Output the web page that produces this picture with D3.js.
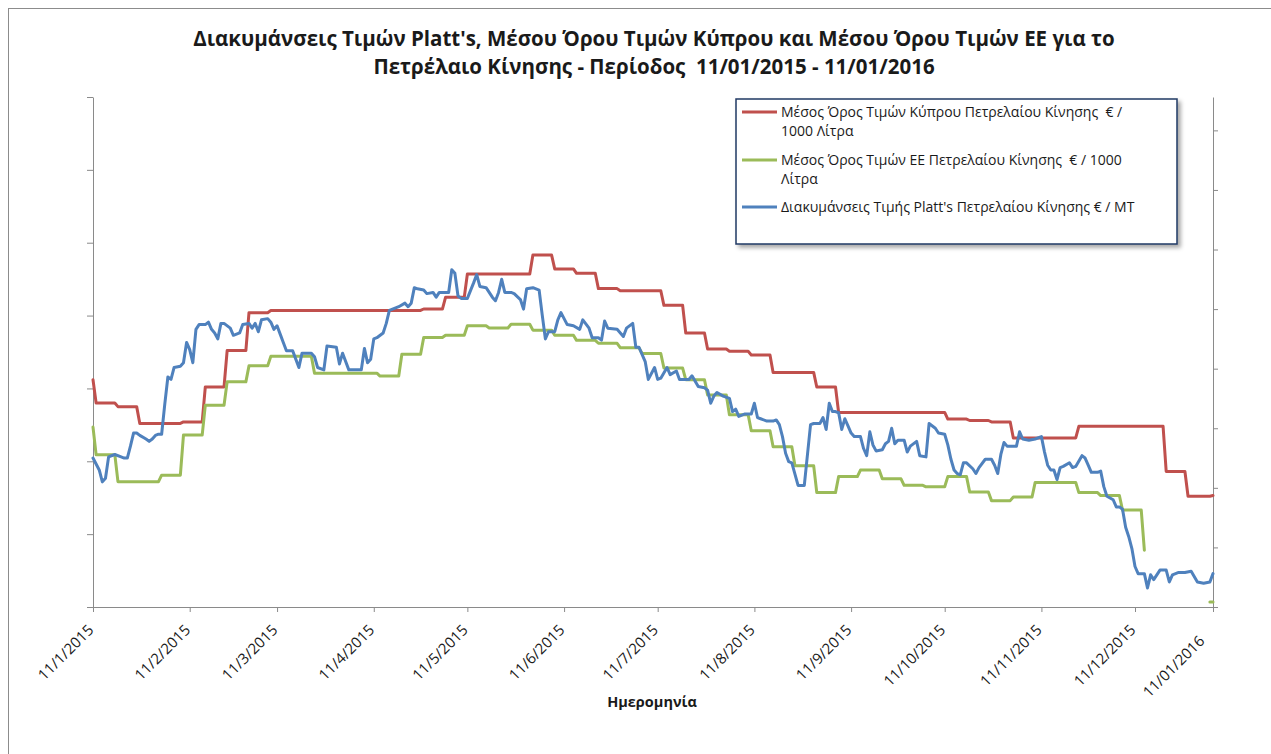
<!DOCTYPE html>
<html>
<head>
<meta charset="utf-8">
<script src="https://cdn.jsdelivr.net/npm/d3@7"></script>
<style>
  body { margin: 0; background: #fff; }
  text { font-family: "Open Sans", "Noto Sans", sans-serif; fill: #1a1a1a; }
</style>
</head>
<body>
<svg id="chart" width="1271" height="754"></svg>
<script>

// titles and labels
var titleLines = [
  "Διακυμάνσεις Τιμών Platt's, Μέσου Όρου Τιμών Κύπρου και Μέσου Όρου Τιμών ΕΕ για το",
  "Πετρέλαιο Κίνησης - Περίοδος  11/01/2015 - 11/01/2016"
];
var xTitle = "Ημερομηνία";
var legendLines = [
  ["Μέσος Όρος Τιμών Κύπρου Πετρελαίου Κίνησης  € /", "1000 Λίτρα"],
  ["Μέσος Όρος Τιμών ΕΕ Πετρελαίου Κίνησης  € / 1000", "Λίτρα"],
  ["Διακυμάνσεις Τιμής Platt's Πετρελαίου Κίνησης € / MT"]
];

// x axis ticks
var tickDates = ["2015-01-11", "2015-02-11", "2015-03-11", "2015-04-11", "2015-05-11", "2015-06-11",
  "2015-07-11", "2015-08-11", "2015-09-11", "2015-10-11", "2015-11-11", "2015-12-11", "2016-01-05"];
var tickLabels = ["11/1/2015", "11/2/2015", "11/3/2015", "11/4/2015", "11/5/2015", "11/6/2015",
  "11/7/2015", "11/8/2015", "11/9/2015", "11/10/2015", "11/11/2015", "11/12/2015", "11/01/2016"];

// y ticks (labels are hidden in the original)
var leftTicks = [900, 1000, 1100, 1200, 1300, 1400, 1500, 1600];
var rightTicks = [250, 300, 350, 400, 450, 500, 550, 600, 650];

// Cyprus average, weekly changes (€/1000 L)
var cyDates = ["2015-01-11", "2015-01-12", "2015-01-19", "2015-01-26", "2015-02-09", "2015-02-16", "2015-02-23",
  "2015-03-02", "2015-03-09", "2015-04-27", "2015-05-04", "2015-05-11", "2015-06-01", "2015-06-08", "2015-06-15",
  "2015-06-22", "2015-06-29", "2015-07-13", "2015-07-20", "2015-07-27", "2015-08-03", "2015-08-10", "2015-08-17",
  "2015-08-31", "2015-09-07", "2015-10-12", "2015-10-19", "2015-10-26", "2015-11-02", "2015-11-23", "2015-12-21",
  "2015-12-28", "2016-01-05"];
var cyValues = [1212, 1180, 1175, 1152, 1154, 1202, 1252,
  1304, 1307, 1309, 1325, 1357, 1383, 1364, 1358,
  1337, 1334, 1314, 1276, 1254, 1251, 1246, 1222,
  1202, 1167, 1158, 1156, 1154, 1132, 1148, 1086,
  1052, 1053];

// EU average, weekly changes (€/1000 L), null = no data
var euDates = ["2015-01-11", "2015-01-12", "2015-01-19", "2015-02-02", "2015-02-09", "2015-02-16", "2015-02-23",
  "2015-03-02", "2015-03-09", "2015-03-23", "2015-04-13", "2015-04-20", "2015-04-27", "2015-05-04", "2015-05-11",
  "2015-05-18", "2015-05-25", "2015-06-01", "2015-06-08", "2015-06-15", "2015-06-22", "2015-06-29", "2015-07-06",
  "2015-07-13", "2015-07-20", "2015-07-27", "2015-08-03", "2015-08-10", "2015-08-17", "2015-08-24", "2015-08-31",
  "2015-09-07", "2015-09-14", "2015-09-21", "2015-09-28", "2015-10-05", "2015-10-12", "2015-10-19", "2015-10-26",
  "2015-11-02", "2015-11-09", "2015-11-23", "2015-11-30", "2015-12-07", "2015-12-14", "2015-12-15", "2016-01-04",
  "2016-01-05"];
var euValues = [1147, 1109, 1072, 1081, 1136, 1177, 1209,
  1231, 1244, 1221, 1217, 1247, 1270, 1273, 1286,
  1283, 1288, 1280, 1273, 1266, 1262, 1256, 1248,
  1228, 1212, 1191, 1164, 1142, 1120, 1094, 1057,
  1079, 1088, 1076, 1067, 1065, 1079, 1058, 1046,
  1051, 1071, 1057, 1053, 1033, 978, null, 907,
  907];

// Platt's quotations (€/MT)
var plattsDates = ["2015-01-11","2015-01-13","2015-01-14","2015-01-15","2015-01-16","2015-01-18","2015-01-20","2015-01-21","2015-01-22","2015-01-23",
  "2015-01-24","2015-01-25","2015-01-26","2015-01-28","2015-01-29","2015-01-30","2015-01-31","2015-02-01","2015-02-02","2015-02-03",
  "2015-02-04","2015-02-05","2015-02-06","2015-02-08","2015-02-09","2015-02-10","2015-02-11","2015-02-12","2015-02-13","2015-02-14",
  "2015-02-16","2015-02-17","2015-02-18","2015-02-19","2015-02-20","2015-02-21","2015-02-22","2015-02-24","2015-02-25","2015-02-27",
  "2015-02-28","2015-03-02","2015-03-03","2015-03-04","2015-03-05","2015-03-06","2015-03-08","2015-03-09","2015-03-10","2015-03-11",
  "2015-03-12","2015-03-13","2015-03-14","2015-03-16","2015-03-17","2015-03-18","2015-03-19","2015-03-20","2015-03-22","2015-03-23",
  "2015-03-24","2015-03-26","2015-03-27","2015-03-30","2015-03-31","2015-04-01","2015-04-03","2015-04-07","2015-04-08","2015-04-09",
  "2015-04-10","2015-04-11","2015-04-12","2015-04-14","2015-04-15","2015-04-16","2015-04-18","2015-04-19","2015-04-21","2015-04-22",
  "2015-04-23","2015-04-24","2015-04-25","2015-04-27","2015-04-28","2015-04-30","2015-05-01","2015-05-02","2015-05-05","2015-05-06",
  "2015-05-07","2015-05-08","2015-05-09","2015-05-11","2015-05-13","2015-05-14","2015-05-15","2015-05-17","2015-05-19","2015-05-20",
  "2015-05-21","2015-05-22","2015-05-23","2015-05-25","2015-05-26","2015-05-28","2015-05-29","2015-05-30","2015-06-01","2015-06-03",
  "2015-06-04","2015-06-05","2015-06-06","2015-06-08","2015-06-09","2015-06-10","2015-06-12","2015-06-14","2015-06-16","2015-06-17",
  "2015-06-19","2015-06-20","2015-06-22","2015-06-23","2015-06-24","2015-06-25","2015-06-28","2015-06-30","2015-07-01","2015-07-03",
  "2015-07-04","2015-07-05","2015-07-07","2015-07-08","2015-07-10","2015-07-11","2015-07-12","2015-07-14","2015-07-15","2015-07-17",
  "2015-07-18","2015-07-19","2015-07-21","2015-07-22","2015-07-24","2015-07-26","2015-07-27","2015-07-28","2015-07-29","2015-07-30",
  "2015-08-01","2015-08-03","2015-08-04","2015-08-05","2015-08-06","2015-08-08","2015-08-10","2015-08-11","2015-08-12","2015-08-13",
  "2015-08-15","2015-08-17","2015-08-18","2015-08-19","2015-08-20","2015-08-21","2015-08-22","2015-08-23","2015-08-25","2015-08-26",
  "2015-08-27","2015-08-29","2015-08-30","2015-09-01","2015-09-02","2015-09-03","2015-09-04","2015-09-05","2015-09-06","2015-09-07",
  "2015-09-08","2015-09-09","2015-09-10","2015-09-11","2015-09-12","2015-09-14","2015-09-15","2015-09-16","2015-09-17","2015-09-18",
  "2015-09-19","2015-09-21","2015-09-22","2015-09-23","2015-09-24","2015-09-25","2015-09-26","2015-09-28","2015-09-29","2015-09-30",
  "2015-10-02","2015-10-03","2015-10-05","2015-10-06","2015-10-08","2015-10-09","2015-10-11","2015-10-12","2015-10-13","2015-10-14",
  "2015-10-15","2015-10-16","2015-10-17","2015-10-18","2015-10-20","2015-10-21","2015-10-22","2015-10-24","2015-10-26","2015-10-27",
  "2015-10-28","2015-10-29","2015-10-30","2015-10-31","2015-11-03","2015-11-04","2015-11-05","2015-11-07","2015-11-09","2015-11-11",
  "2015-11-12","2015-11-13","2015-11-14","2015-11-15","2015-11-16","2015-11-17","2015-11-18","2015-11-20","2015-11-21","2015-11-22",
  "2015-11-24","2015-11-25","2015-11-26","2015-11-27","2015-11-29","2015-11-30","2015-12-01","2015-12-02","2015-12-04","2015-12-05",
  "2015-12-06","2015-12-07","2015-12-08","2015-12-09","2015-12-10","2015-12-11","2015-12-12","2015-12-14","2015-12-15","2015-12-16",
  "2015-12-17","2015-12-18","2015-12-19","2015-12-21","2015-12-22","2015-12-23","2015-12-25","2015-12-27","2015-12-29","2015-12-31",
  "2016-01-02","2016-01-04","2016-01-05"];
var plattsValues = [375,365,355,358,376,378,376,375,375,385,
  396,396,394,391,389,391,394,395,395,420,
  443,441,451,452,455,472,466,455,483,487,
  487,489,483,480,475,488,488,484,478,480,
  487,488,484,488,481,491,492,489,483,486,
  479,472,465,465,458,451,463,463,463,460,
  451,449,469,468,454,463,449,449,467,455,
  458,475,476,480,488,499,501,502,505,502,
  505,518,517,516,513,514,510,514,514,533,
  530,511,509,509,522,529,519,518,510,507,
  514,525,514,514,513,508,500,517,518,516,
  495,475,481,481,491,497,487,486,483,491,
  484,476,476,474,490,484,483,477,484,488,
  468,468,456,441,451,441,442,451,445,448,
  441,441,441,444,435,434,432,421,427,430,
  427,425,414,416,410,412,412,421,409,408,
  406,406,407,403,393,379,372,371,352,352,
  352,403,404,404,409,399,421,414,414,413,
  399,408,402,396,393,393,383,377,397,386,
  381,382,387,389,400,387,390,390,380,385,
  389,377,376,404,400,396,395,386,374,365,
  362,361,371,371,366,362,367,374,374,369,
  362,378,388,385,385,397,391,390,391,393,
  380,369,365,365,357,367,368,371,367,368,
  377,375,369,363,363,364,351,343,340,334,
  334,332,317,309,299,284,278,278,266,277,
  273,277,281,281,271,277,279,279,280,271,
  270,271,278];

var colors = ["#C0504D", "#9BBB59", "#4F81BD"];

var plot = {left: 93, right: 1213, top: 97, bottom: 607};
var parse = d3.utcParse("%Y-%m-%d");

var svg = d3.select("#chart");

// drop shadow for the legend
var defs = svg.append("defs");
var shadow = defs.append("filter").attr("id", "shadow")
  .attr("x", "-5%").attr("y", "-5%").attr("width", "115%").attr("height", "125%");
shadow.append("feDropShadow")
  .attr("dx", 3).attr("dy", 3).attr("stdDeviation", 2)
  .attr("flood-color", "#000").attr("flood-opacity", 0.35);

// chart area border
svg.append("rect")
  .attr("x", 8.5).attr("y", 8.5)
  .attr("width", 1400).attr("height", 900)
  .attr("fill", "none").attr("stroke", "#8c8c8c");

var x = d3.scaleUtc()
  .domain([parse(tickDates[0]), parse(tickDates[tickDates.length - 1])])
  .range([plot.left, plot.right]);

var yLeft = d3.scaleLinear()
  .domain([leftTicks[0], leftTicks[leftTicks.length - 1]])
  .range([plot.bottom, plot.top]);

var yRight = d3.scaleLinear()
  .domain([250, 678])
  .range([plot.bottom, plot.top]);

// axes
var xAxis = svg.append("g")
  .attr("transform", "translate(0," + plot.bottom + ")")
  .call(d3.axisBottom(x)
    .tickValues(tickDates.map(parse))
    .tickSize(5)
    .tickSizeOuter(0)
    .tickFormat(function(d, i) { return tickLabels[i]; }));

xAxis.selectAll("text")
  .attr("x", null).attr("y", null).attr("dy", null)
  .attr("text-anchor", "end")
  .attr("font-size", 15)
  .attr("fill", "#1a1a1a")
  .attr("transform", function(d, i) {
    // the last label sits further down in the original
    if (i == tickLabels.length - 1) return "translate(-8,35) rotate(-45)";
    return "translate(1,24) rotate(-45)";
  });

var leftAxis = svg.append("g")
  .attr("transform", "translate(" + plot.left + ",0)")
  .call(d3.axisLeft(yLeft).tickValues(leftTicks).tickSize(6).tickSizeOuter(0).tickFormat(""));

var rightAxis = svg.append("g")
  .attr("transform", "translate(" + plot.right + ",0)")
  .call(d3.axisRight(yRight).tickValues(rightTicks).tickSize(5).tickSizeOuter(0).tickFormat(""));

svg.selectAll(".domain, .tick line").attr("stroke", "#8a8a8a");

// build step lines: each level holds until the day before the next change
function stepPoints(dates, values) {
  var pts = [];
  dates.forEach(function(d, i) {
    var t = parse(d);
    pts.push({date: t, v: values[i]});
    if (i < dates.length - 1 && values[i] != null) {
      var last = d3.utcDay.offset(parse(dates[i + 1]), -1);
      if (last > t) pts.push({date: last, v: values[i]});
    }
  });
  return pts;
}

var cyData = stepPoints(cyDates, cyValues);
var euData = stepPoints(euDates, euValues);
var plattsData = plattsDates.map(function(d, i) { return {date: parse(d), v: plattsValues[i]}; });

function lineFor(yScale) {
  return d3.line()
    .defined(function(d) { return d.v != null; })
    .x(function(d) { return x(d.date); })
    .y(function(d) { return yScale(d.v); });
}

var lines = svg.append("g")
  .attr("fill", "none")
  .attr("stroke-width", 3)
  .attr("stroke-linejoin", "round")
  .attr("stroke-linecap", "round");

lines.append("path").datum(cyData).attr("stroke", colors[0]).attr("d", lineFor(yLeft));
lines.append("path").datum(euData).attr("stroke", colors[1]).attr("d", lineFor(yLeft));
lines.append("path").datum(plattsData).attr("stroke", colors[2]).attr("d", lineFor(yRight));

// title
svg.append("g").selectAll("text")
  .data(titleLines)
  .enter()
  .append("text")
  .attr("x", 654)
  .attr("y", function(d, i) { return 46 + i * 28; })
  .attr("text-anchor", "middle")
  .attr("font-size", 20.5)
  .attr("font-weight", "bold")
  .style("white-space", "pre")
  .text(function(d) { return d; });

// x axis title
svg.append("text")
  .attr("x", 652).attr("y", 707)
  .attr("text-anchor", "middle")
  .attr("font-size", 14.5)
  .attr("font-weight", "bold")
  .text(xTitle);

// legend
var legend = svg.append("g").attr("transform", "translate(736,99)");
legend.append("rect")
  .attr("width", 441).attr("height", 145)
  .attr("fill", "#fff")
  .attr("stroke", "#1F3864").attr("stroke-width", 1.5)
  .attr("filter", "url(#shadow)");

var entryTop = [13, 61, 108];
var items = legend.selectAll(".item")
  .data(legendLines)
  .enter()
  .append("g")
  .attr("class", "item")
  .attr("transform", function(d, i) { return "translate(0," + entryTop[i] + ")"; });

items.append("line")
  .attr("x1", 6).attr("x2", 41)
  .attr("stroke", function(d, i) { return colors[i]; })
  .attr("stroke-width", 3);

items.selectAll("text")
  .data(function(d) { return d; })
  .enter()
  .append("text")
  .attr("x", 45)
  .attr("y", function(d, j) { return 5 + j * 19; })
  .attr("font-size", 14)
  .style("white-space", "pre")
  .text(function(d) { return d; });

</script>
</body>
</html>
